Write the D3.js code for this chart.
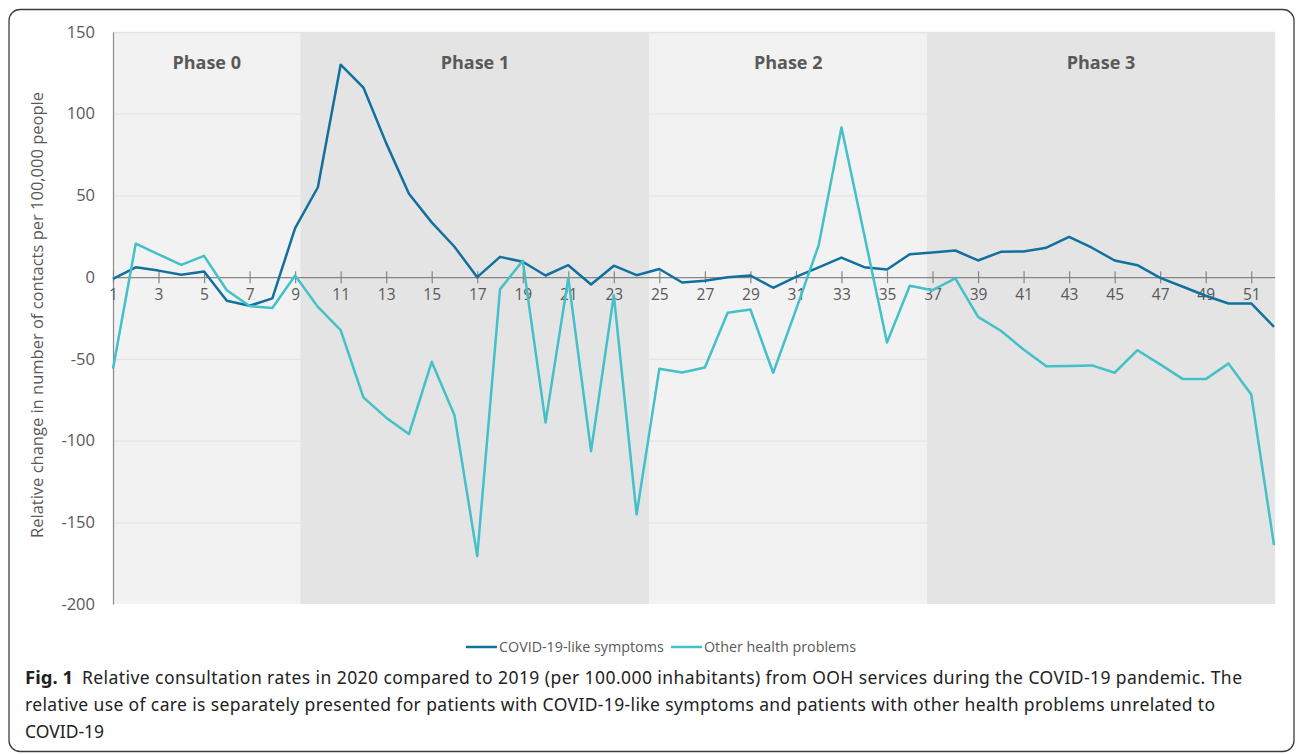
<!DOCTYPE html>
<html>
<head>
<meta charset="utf-8">
<script src="https://cdn.jsdelivr.net/npm/d3@7"></script>
<style>
	body { margin: 0; background: #fff; }
	#ooh_chart { width: 1296px; height: 754px; }
</style>
</head>
<body>
<div id="ooh_chart"></div>
<script>
// Weeks of 2020 (x axis)
var weeks = d3.range(1, 53);

// Relative change per 100,000 people
var covidLike = [-1, 6, 4, 1.5, 3.5, -14.5, -17.5, -13, 30, 55,
	130, 116, 82, 51, 33.5, 18.6, 0, 12.4, 9.4, 1,
	7.3, -4.5, 7, 1.2, 5, -3.3, -2.2, 0, 1, -6.5,
	0.2, 6, 12, 6.1, 4.7, 14, 15.1, 16.3, 10.2, 15.5,
	15.7, 18, 24.7, 18, 10.2, 7.3, -0.4, -5.9, -11.4, -16.1,
	-16.1, -30.4];

var otherProblems = [-56, 20.5, 14, 7.5, 13, -8, -17.7, -18.9, 1, -18.2,
	-32.4, -73.6, -86, -96, -51.8, -84.5, -170.7, -7.5, 10, -88.9,
	-0.5, -106.5, -11, -145.2, -56, -58.3, -55.3, -21.8, -19.8, -58.5,
	-20, 19.6, 91.6, 26, -40, -5.3, -8, -0.8, -24.3, -32.8,
	-44.3, -54.5, -54.3, -54, -58.5, -44.7, -53.4, -62.4, -62.4, -52.8,
	-71.8, -164];

// Pandemic phases (start / end in week units)
var phaseNames  = ['Phase 0', 'Phase 1', 'Phase 2', 'Phase 3'];
var phaseStarts = [1, 9.23, 24.57, 36.75];
var phaseEnds   = [9.23, 24.57, 36.75, 52.05];

var yTicks = [150, 100, 50, 0, -50, -100, -150, -200];
var xTickWeeks = d3.range(1, 53, 2);

var seriesNames = ['COVID-19-like symptoms', 'Other health problems'];
var captionLines = [
	'Relative consultation rates in 2020 compared to 2019 (per 100.000 inhabitants) from OOH services during the COVID-19 pandemic. The',
	'relative use of care is separately presented for patients with COVID-19-like symptoms and patients with other health problems unrelated to',
	'COVID-19'
];

function generate_chart() {
	var textColor = '#595959',
	    darkBlue  = '#11709e',
	    cyan      = '#43c0c8',
	    chartFont = '"Open Sans", sans-serif';

	var xScale = d3.scaleLinear().domain([1, 52]).range([113, 1274]);
	var yScale = d3.scaleLinear().domain([-200, 150]).range([604, 32]);

	var svg = d3.select('#ooh_chart').append('svg')
		.attr('width', 1296)
		.attr('height', 754);

	// figure frame
	svg.append('rect')
		.attr('x', 9).attr('y', 9.5)
		.attr('width', 1285).attr('height', 742)
		.attr('rx', 11).attr('ry', 11)
		.style('fill', 'none')
		.style('stroke', '#3c3c3c')
		.style('stroke-width', 1.3);

	// phase background bands
	svg.selectAll('.phase')
		.data(phaseNames)
		.enter()
		.append('rect')
			.attr('class', 'phase')
			.attr('x', function(d, i) { return xScale(phaseStarts[i]); })
			.attr('y', yScale(150))
			.attr('width', function(d, i) { return xScale(phaseEnds[i]) - xScale(phaseStarts[i]); })
			.attr('height', yScale(-200) - yScale(150))
			.style('fill', function(d, i) { return i % 2 === 0 ? '#f2f2f2' : '#e4e4e4'; });

	// gridlines (only visible on the lighter bands)
	svg.selectAll('.grid')
		.data(yTicks.filter(function(v) { return v !== 0 && v !== -200; }))
		.enter()
		.append('line')
			.attr('class', 'grid')
			.attr('x1', xScale(1)).attr('x2', xScale(52.05))
			.attr('y1', function(d) { return yScale(d) + 0.5; })
			.attr('y2', function(d) { return yScale(d) + 0.5; })
			.style('stroke', '#e3e3e3')
			.style('stroke-width', 1.3);

	// phase labels
	svg.selectAll('.phaseLabel')
		.data(phaseNames)
		.enter()
		.append('text')
			.attr('class', 'phaseLabel')
			.attr('x', function(d, i) { return (xScale(phaseStarts[i]) + xScale(phaseEnds[i])) / 2; })
			.attr('y', 69)
			.attr('text-anchor', 'middle')
			.style('font-family', chartFont)
			.style('font-weight', 'bold')
			.style('font-size', '18px')
			.style('fill', textColor)
			.text(function(d) { return d; });

	// y axis (plain hyphen for negatives, as in the figure)
	var yAxis = d3.axisLeft(yScale).tickValues(yTicks).tickSize(0).tickPadding(18)
		.tickFormat(function(d) { return String(d); });
	var yG = svg.append('g')
		.attr('transform', 'translate(' + xScale(1) + ',0)')
		.call(yAxis);
	yG.select('.domain').style('stroke', '#8a8a8a').style('stroke-width', 1.2);
	yG.selectAll('text')
		.style('font-family', chartFont)
		.style('font-size', '16.5px')
		.style('fill', textColor);

	// x axis along zero, ticks crossing the line
	var xAxis = d3.axisBottom(xScale).tickValues(xTickWeeks).tickSize(6).tickSizeOuter(0).tickPadding(6);
	var xG = svg.append('g')
		.attr('transform', 'translate(0,' + yScale(0) + ')')
		.call(xAxis);
	xG.select('.domain').attr('d', 'M' + xScale(1) + ',0.5H' + xScale(52.05)).style('stroke', '#868686').style('stroke-width', 1.3);
	xG.selectAll('.tick line').attr('y1', -6).style('stroke', '#868686').style('stroke-width', 1.2);
	xG.selectAll('.tick text')
		.style('font-family', chartFont)
		.style('font-size', '15.5px')
		.style('fill', textColor);

	// y axis title
	svg.append('text')
		.attr('transform', 'translate(43,' + 315 + ') rotate(-90)')
		.attr('text-anchor', 'middle')
		.style('font-family', chartFont)
		.style('font-size', '16.5px')
		.style('fill', textColor)
		.text('Relative change in number of contacts per 100,000 people');

	// series lines
	var line = d3.line()
		.x(function(d, i) { return xScale(weeks[i]); })
		.y(function(d) { return yScale(d); });

	svg.append('path')
		.datum(covidLike)
		.attr('d', line)
		.style('fill', 'none')
		.style('stroke', darkBlue)
		.style('stroke-width', 2.5)
		.style('stroke-linejoin', 'round');

	svg.append('path')
		.datum(otherProblems)
		.attr('d', line)
		.style('fill', 'none')
		.style('stroke', cyan)
		.style('stroke-width', 2.5)
		.style('stroke-linejoin', 'round');

	// legend
	var legendColors = [darkBlue, cyan];
	var legendX = [466, 671];
	var legend = svg.selectAll('.legendItem')
		.data(seriesNames)
		.enter()
		.append('g')
			.attr('class', 'legendItem')
			.attr('transform', function(d, i) { return 'translate(' + legendX[i] + ',647)'; });
	legend.append('line')
		.attr('x1', 0).attr('x2', 31)
		.style('stroke', function(d, i) { return legendColors[i]; })
		.style('stroke-width', 2.5);
	legend.append('text')
		.attr('x', 33).attr('y', 5)
		.style('font-family', chartFont)
		.style('font-size', '14.3px')
		.style('fill', textColor)
		.text(function(d) { return d; });

	// caption
	var capFont = '"Noto Sans", sans-serif';
	var cap = svg.append('text')
		.attr('x', 25).attr('y', 684)
		.style('font-family', capFont)
		.style('font-size', '17.5px')
		.style('fill', '#222');
	cap.append('tspan')
		.style('font-weight', 'bold')
		.style('font-size', '18.5px')
		.text('Fig. 1');
	cap.append('tspan')
		.attr('x', 82)
		.attr('textLength', 1160)
		.attr('lengthAdjust', 'spacing')
		.text(captionLines[0]);

	svg.selectAll('.capLine')
		.data(captionLines.slice(1))
		.enter()
		.append('text')
			.attr('class', 'capLine')
			.attr('x', 25)
			.attr('y', function(d, i) { return 711 + i * 27; })
			.attr('textLength', function(d, i) { return i === 0 ? 1190 : null; })
			.attr('lengthAdjust', 'spacing')
			.style('font-family', capFont)
			.style('font-size', '17.5px')
			.style('fill', '#222')
			.text(function(d) { return d; });
} // generate_chart

generate_chart();
</script>
</body>
</html>
